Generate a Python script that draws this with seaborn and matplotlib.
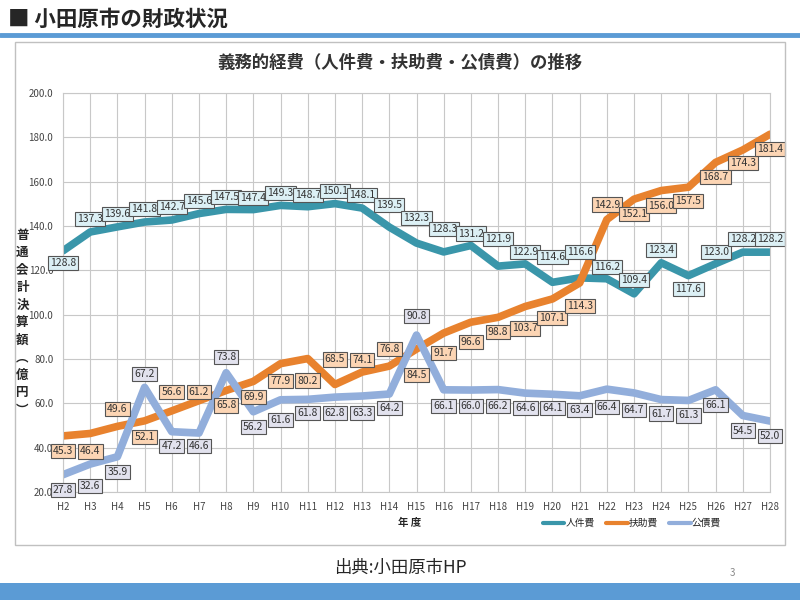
import numpy as np
import pandas as pd
import matplotlib
matplotlib.use("Agg")
import matplotlib.pyplot as plt
import matplotlib.patches as mpatches
import matplotlib.lines as mlines
import seaborn as sns

# --- data ---
years = [f"H{i}" for i in range(2, 29)]
jinken = [128.8, 137.3, 139.6, 141.8, 142.7, 145.6, 147.5, 147.4, 149.3, 148.7,
          150.1, 148.1, 139.5, 132.3, 128.3, 131.2, 121.9, 122.9, 114.6, 116.6,
          116.2, 109.4, 123.4, 117.6, 123.0, 128.2, 128.2]
fujo = [45.3, 46.4, 49.6, 52.1, 56.6, 61.2, 65.8, 69.9, 77.9, 80.2,
        68.5, 74.1, 76.8, 84.5, 91.7, 96.6, 98.8, 103.7, 107.1, 114.3,
        142.9, 152.1, 156.0, 157.5, 168.7, 174.3, 181.4]
kosai = [27.8, 32.6, 35.9, 67.2, 47.2, 46.6, 73.8, 56.2, 61.6, 61.8,
         62.8, 63.3, 64.2, 90.8, 66.1, 66.0, 66.2, 64.6, 64.1, 63.4,
         66.4, 64.7, 61.7, 61.3, 66.1, 54.5, 52.0]
series_names = ["人件費", "扶助費", "公債費"]

# label offsets in pixels (positive = below the point)
jinken_off = [12, -13, -13, -13, -13, -13, -12, -12, -12, -12, -13, -13, -22, -25,
              -23, -12, -27, -12, -25, -26, -12, -14, -13, 13, -12, -13, -13]
fujo_off = [15, 18, -17, 16, -19, -9, 15, 16, 17, 22, -25, -12, -17, 26,
            20, 20, 15, 22, 19, 23, -15, 15, 15, 14, 15, 13, 15]
kosai_off = [15, 22, 15, -13, 14, 13, -16, 15, 20, 14, 16, 17, 14, -19,
             16, 16, 16, 15, 14, 14, 18, 17, 14, 15, 15, 15, 15]

colors = {"人件費": "#3a96aa", "扶助費": "#e8822e", "公債費": "#92aedb"}
fills = {"人件費": "#dcf0f5", "扶助費": "#fcd5b4", "公債費": "#e2e2ee"}

sns.set_style("white")
plt.rcParams['font.family'] = ['Noto Sans CJK JP', 'DejaVu Sans']

df = pd.DataFrame({
    "x": list(range(len(years))) * 3,
    "value": jinken + fujo + kosai,
    "series": [s for s in series_names for _ in years],
})

fig = plt.figure(figsize=(8, 6), dpi=100)

# slide decorations
fig.text(0.01, 0.968, "■ 小田原市の財政状況", fontsize=15.5, fontweight="bold", va="center")
fig.add_artist(mlines.Line2D([0, 1], [0.941, 0.941], color="#5b9bd5", lw=3.5))
fig.add_artist(mpatches.Rectangle((0, 0), 1, 0.028, color="#5b9bd5", lw=0))
fig.add_artist(mpatches.Rectangle((15 / 800, 1 - 545 / 600), 770 / 800, 503 / 600,
                                  fill=False, edgecolor="#c0c0c0", lw=1))
fig.text(0.5, 0.054, "出典:小田原市HP", fontsize=12.5, ha="center", va="center")
fig.text(0.916, 0.045, "3", fontsize=7, color="#888888", ha="center", va="center")

ax = fig.add_axes([63 / 800, 1 - 492 / 600, 707 / 800, 399 / 600])
sns.lineplot(data=df, x="x", y="value", hue="series", palette=colors,
             linewidth=5.5, ax=ax, legend=False, sort=False)

for name, vals, offs in [("人件費", jinken, jinken_off),
                         ("扶助費", fujo, fujo_off),
                         ("公債費", kosai, kosai_off)]:
    for i, (v, o) in enumerate(zip(vals, offs)):
        ax.annotate(f"{v:.1f}", (i, v), xytext=(0, -o), textcoords="offset pixels",
                    ha="center", va="center", fontsize=7.5, color="#333333", zorder=5,
                    bbox=dict(boxstyle="square,pad=0.2", fc=fills[name],
                              ec="#555555", lw=0.8))

ax.set_xlim(0, 26)
ax.set_ylim(20, 200)
ax.set_yticks(np.arange(20, 201, 20))
ax.set_yticklabels([f"{t:.1f}" for t in np.arange(20, 201, 20)])
ax.set_xticks(range(len(years)))
ax.set_xticklabels(years)
ax.tick_params(labelsize=7, colors="#444444", length=0, pad=7)
ax.grid(True, color="#c8c8c8", lw=0.8)
for sp in ax.spines.values():
    sp.set_color("#c8c8c8")
ax.set_xlabel("")
ax.set_ylabel("")

fig.text(0.5, 0.895, "義務的経費（人件費・扶助費・公債費）の推移", fontsize=12.5,
         fontweight="bold", ha="center", va="center", color="#333333")
fig.text(0.5125, 0.128, "年 度", fontsize=7.5, fontweight="bold", ha="center", va="center")
fig.text(0.028, 0.462, "\n".join("普通会計決算額︵億円︶"), fontsize=9, fontweight="bold",
         ha="center", va="center", linespacing=1.45)

handles = [mlines.Line2D([], [], color=colors[n], lw=3) for n in series_names]
fig.legend(handles, series_names, loc="center", bbox_to_anchor=(0.79, 0.128), ncol=3,
           frameon=False, fontsize=7, handlelength=2.2, handletextpad=0.1, columnspacing=1.2)

fig.savefig("out.png", dpi=100)
